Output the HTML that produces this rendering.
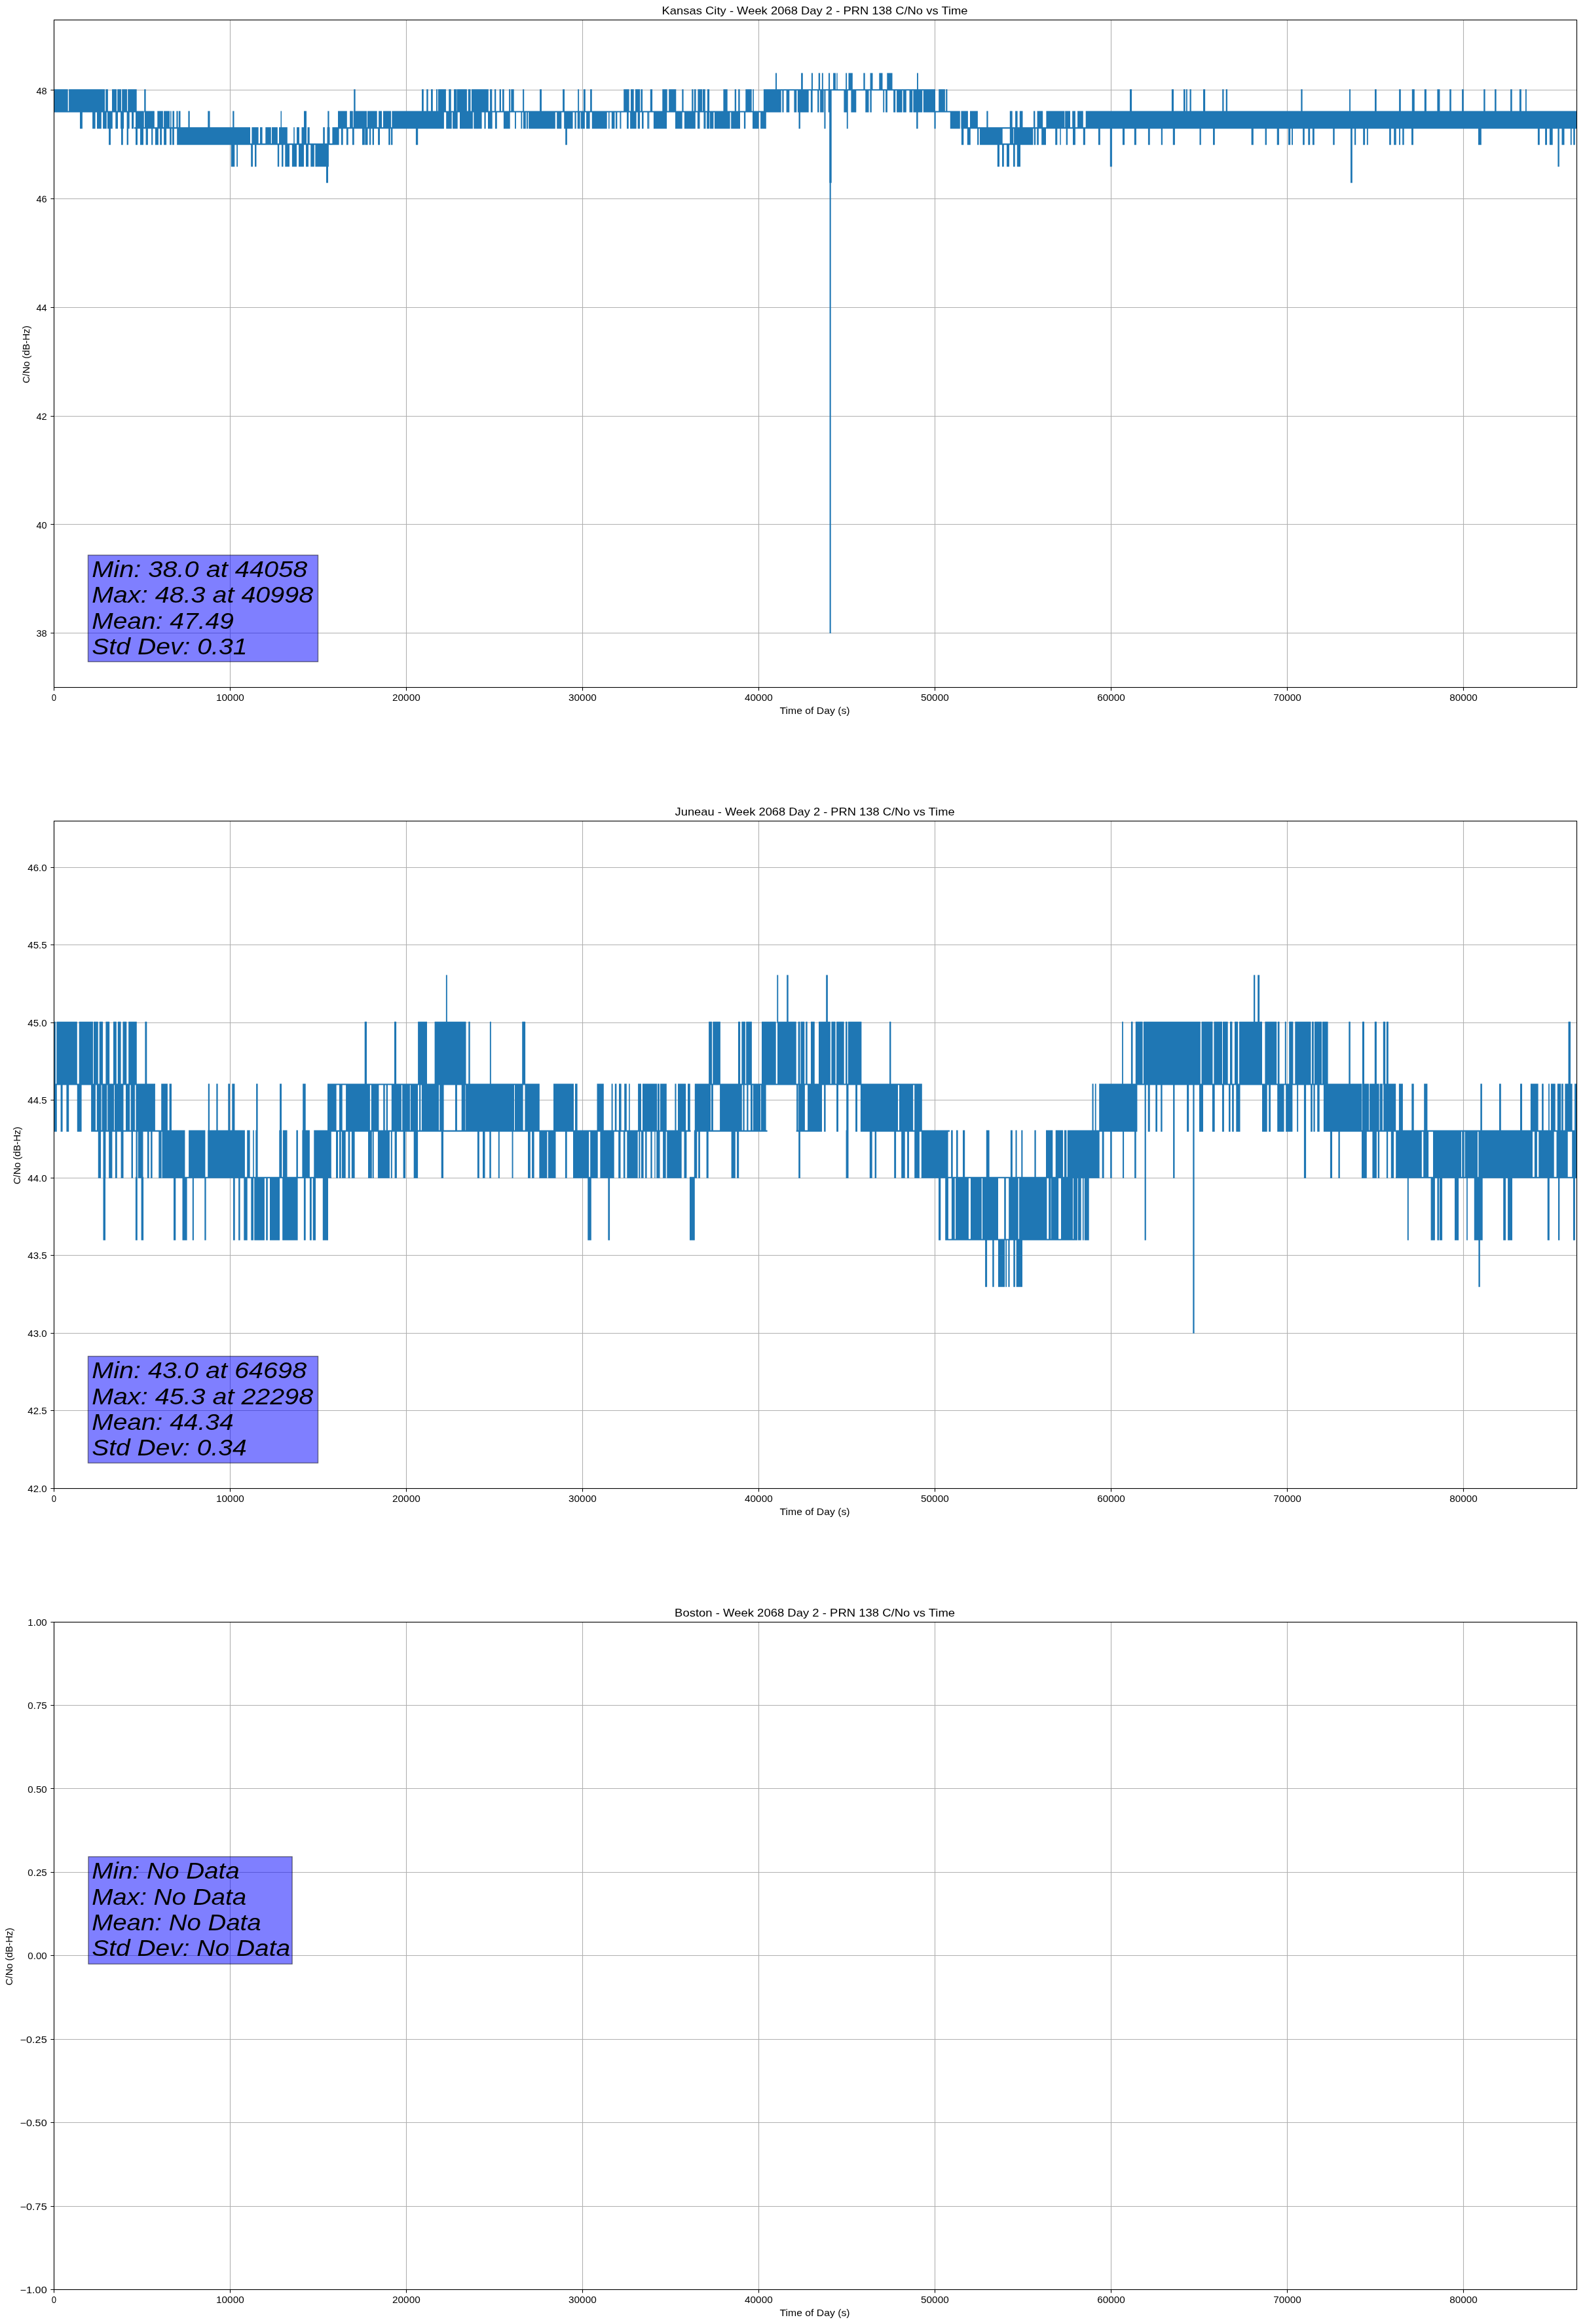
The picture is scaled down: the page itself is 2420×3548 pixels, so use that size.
<!DOCTYPE html><html><head><meta charset="utf-8"><style>html,body{margin:0;padding:0;background:#fff;}svg{display:block;will-change:transform}text{font-family:"Liberation Sans",sans-serif;fill:#000}</style></head><body>
<svg width="2420" height="3548" viewBox="0 0 2420 3548">
<rect x="0" y="0" width="2420" height="3548" fill="#fff"/>
<path d="M82.5 30.5V1049.5M351.5 30.5V1049.5M620.5 30.5V1049.5M889.5 30.5V1049.5M1158.5 30.5V1049.5M1427.5 30.5V1049.5M1696.5 30.5V1049.5M1965.5 30.5V1049.5M2234.5 30.5V1049.5M82.39 966.5H2407.4M82.39 800.5H2407.4M82.39 635.5H2407.4M82.39 469.5H2407.4M82.39 303.5H2407.4M82.39 137.5H2407.4" stroke="#b0b0b0" stroke-width="1.11" fill="none"/>
<path d="M82.0 136.3H103.7V171.5H82.0ZM105.1 136.3H160.0V171.5H105.1ZM161.2 136.3H164.9V171.5H161.2ZM171.0 136.3H178.0V171.5H171.0ZM179.2 136.3H185.0V171.5H179.2ZM186.2 136.3H194.0V171.5H186.2ZM195.2 136.3H208.7V171.5H195.2ZM82.0 169.4H212.0V171.5H82.0ZM122.0 169.4H125.9V196.4H122.0ZM141.1 169.4H145.6V196.4H141.1ZM148.0 169.4H154.8V196.4H148.0ZM157.1 169.4H162.8V196.4H157.1ZM164.0 169.4H171.8V196.4H164.0ZM176.3 169.4H180.0V196.4H176.3ZM184.1 169.4H189.1V196.4H184.1ZM193.6 169.4H197.7V196.4H193.6ZM201.0 169.4H204.2V196.4H201.0ZM207.1 169.4H212.0V196.4H207.1ZM166.1 194.3H169.0V221.2H166.1ZM185.0 194.3H187.8V221.2H185.0ZM193.6 194.3H196.0V221.2H193.6ZM207.1 194.3H210.0V221.2H207.1ZM207.0 169.4H219.8V196.4H207.0ZM221.0 169.4H235.8V196.4H221.0ZM240.3 169.4H248.9V196.4H240.3ZM250.1 169.4H259.1V196.4H250.1ZM260.1 169.4H261.6V196.4H260.1ZM263.4 169.4H266.1V196.4H263.4ZM269.4 169.4H271.0V196.4H269.4ZM273.3 169.4H275.5V196.4H273.3ZM220.2 136.3H222.6V171.5H220.2ZM207.0 194.3H209.9V221.2H207.0ZM214.0 194.3H219.0V221.2H214.0ZM222.6 194.3H225.9V221.2H222.6ZM231.1 194.3H233.3V221.2H231.1ZM237.0 194.3H241.9V221.2H237.0ZM244.2 194.3H247.0V221.2H244.2ZM250.1 194.3H254.1V221.2H250.1ZM259.1 194.3H261.8V221.2H259.1ZM263.1 194.3H265.9V221.2H263.1ZM205.0 194.3H272.0V196.4H205.0ZM270.2 194.3H382.0V221.2H270.2ZM270.0 169.4H271.6V196.4H270.0ZM272.8 169.4H275.5V196.4H272.8ZM287.4 169.4H289.7V196.4H287.4ZM317.3 169.4H320.5V196.4H317.3ZM355.2 169.4H357.5V196.4H355.2ZM352.8 219.1H358.3V254.4H352.8ZM361.2 219.1H363.0V254.4H361.2ZM383.2 219.1H386.0V254.4H383.2ZM389.0 219.1H391.5V254.4H389.0ZM384.4 194.3H394.6V221.2H384.4ZM397.0 194.3H400.6V221.2H397.0ZM405.3 194.3H413.8V221.2H405.3ZM415.0 194.3H423.8V221.2H415.0ZM426.0 194.3H438.8V221.2H426.0ZM382.0 219.1H510.0V221.2H382.0ZM423.8 219.1H426.2V254.4H423.8ZM430.0 219.1H432.5V254.4H430.0ZM435.3 219.1H442.0V254.4H435.3ZM445.9 219.1H453.0V254.4H445.9ZM456.0 219.1H464.0V254.4H456.0ZM467.0 219.1H471.0V254.4H467.0ZM474.3 219.1H479.8V254.4H474.3ZM481.4 219.1H501.9V254.4H481.4ZM498.0 252.3H501.0V279.2H498.0ZM428.5 169.4H430.0V196.4H428.5ZM464.0 169.4H468.0V196.4H464.0ZM500.3 169.4H502.6V196.4H500.3ZM516.0 169.4H519.0V196.4H516.0ZM448.2 194.3H449.8V221.2H448.2ZM453.0 194.3H457.0V221.2H453.0ZM460.5 194.3H468.0V221.2H460.5ZM469.5 194.3H472.7V221.2H469.5ZM493.2 194.3H495.9V221.2H493.2ZM499.5 194.3H503.5V221.2H499.5ZM507.4 194.3H517.6V221.2H507.4ZM517.0 194.3H600.0V196.4H517.0ZM600.0 169.4H760.0V171.5H600.0ZM516.1 169.4H517.8V196.4H516.1ZM518.9 169.4H529.8V196.4H518.9ZM534.1 169.4H538.8V196.4H534.1ZM539.7 169.4H560.1V196.4H539.7ZM561.0 169.4H575.7V196.4H561.0ZM578.1 169.4H583.1V196.4H578.1ZM585.0 169.4H597.0V196.4H585.0ZM598.4 169.4H677.9V196.4H598.4ZM520.8 194.3H523.7V221.2H520.8ZM528.9 194.3H531.7V221.2H528.9ZM537.9 194.3H540.7V221.2H537.9ZM553.0 194.3H556.8V221.2H553.0ZM557.3 194.3H561.5V221.2H557.3ZM563.9 194.3H566.2V221.2H563.9ZM568.6 194.3H571.0V221.2H568.6ZM577.1 194.3H580.0V221.2H577.1ZM593.2 194.3H595.8V221.2H593.2ZM597.0 194.3H599.4V221.2H597.0ZM634.9 194.3H638.2V221.2H634.9ZM540.2 136.3H542.6V171.5H540.2ZM644.0 136.3H646.8V171.5H644.0ZM651.2 136.3H653.7V171.5H651.2ZM658.0 136.3H660.8V171.5H658.0ZM666.0 136.3H667.9V171.5H666.0ZM668.9 136.3H680.9V171.5H668.9ZM685.2 136.3H688.7V171.5H685.2ZM693.0 136.3H697.5V171.5H693.0ZM697.9 136.3H712.9V171.5H697.9ZM714.8 136.3H718.5V171.5H714.8ZM720.0 136.3H745.8V171.5H720.0ZM748.1 136.3H750.5V171.5H748.1ZM755.0 136.3H757.3V171.5H755.0ZM681.2 169.4H689.7V196.4H681.2ZM691.1 169.4H698.7V196.4H691.1ZM702.0 169.4H721.9V196.4H702.0ZM723.3 169.4H735.6V196.4H723.3ZM739.4 169.4H741.7V196.4H739.4ZM745.0 169.4H751.7V196.4H745.0ZM755.9 169.4H758.8V196.4H755.9ZM750.0 169.4H1000.0V171.5H750.0ZM750.0 136.3H751.3V171.5H750.0ZM755.0 136.3H757.1V171.5H755.0ZM762.6 136.3H765.0V171.5H762.6ZM767.0 136.3H769.7V171.5H767.0ZM777.1 136.3H779.2V171.5H777.1ZM780.3 136.3H784.7V171.5H780.3ZM798.1 136.3H800.2V171.5H798.1ZM824.1 136.3H827.0V171.5H824.1ZM859.1 136.3H862.0V171.5H859.1ZM882.2 136.3H884.1V171.5H882.2ZM890.9 136.3H893.8V171.5H890.9ZM901.1 136.3H903.8V171.5H901.1ZM952.2 136.3H960.6V171.5H952.2ZM963.0 136.3H967.7V171.5H963.0ZM970.0 136.3H977.1V171.5H970.0ZM978.4 136.3H981.1V171.5H978.4ZM993.7 136.3H996.1V171.5H993.7ZM750.0 169.4H751.6V196.4H750.0ZM756.0 169.4H758.7V196.4H756.0ZM768.9 169.4H778.7V196.4H768.9ZM786.0 169.4H787.9V196.4H786.0ZM795.4 169.4H797.3V196.4H795.4ZM798.9 169.4H802.8V196.4H798.9ZM803.9 169.4H806.0V196.4H803.9ZM807.1 169.4H847.8V196.4H807.1ZM850.2 169.4H857.3V196.4H850.2ZM861.2 169.4H874.6V196.4H861.2ZM877.4 169.4H879.7V196.4H877.4ZM881.7 169.4H885.6V196.4H881.7ZM886.7 169.4H892.9V196.4H886.7ZM895.1 169.4H900.6V196.4H895.1ZM903.8 169.4H926.7V196.4H903.8ZM929.0 169.4H930.6V196.4H929.0ZM933.8 169.4H938.5V196.4H933.8ZM940.0 169.4H942.4V196.4H940.0ZM946.4 169.4H948.4V196.4H946.4ZM957.0 169.4H959.8V196.4H957.0ZM962.1 169.4H971.6V196.4H962.1ZM973.7 169.4H977.1V196.4H973.7ZM980.0 169.4H982.6V196.4H980.0ZM988.2 169.4H989.7V196.4H988.2ZM998.4 169.4H1000.0V196.4H998.4ZM863.2 194.3H865.9V221.2H863.2ZM990.0 169.4H1165.9V171.5H990.0ZM992.8 136.3H996.0V171.5H992.8ZM1011.3 136.3H1018.7V171.5H1011.3ZM1021.2 136.3H1032.3V171.5H1021.2ZM1041.3 136.3H1043.6V171.5H1041.3ZM1056.2 136.3H1058.6V171.5H1056.2ZM1059.9 136.3H1062.6V171.5H1059.9ZM1065.4 136.3H1072.0V171.5H1065.4ZM1072.8 136.3H1076.8V171.5H1072.8ZM1079.9 136.3H1083.1V171.5H1079.9ZM1104.4 136.3H1110.7V171.5H1104.4ZM1121.7 136.3H1124.1V171.5H1121.7ZM1127.2 136.3H1129.6V171.5H1127.2ZM1138.3 136.3H1147.7V171.5H1138.3ZM1149.3 136.3H1150.9V171.5H1149.3ZM990.0 169.4H991.3V196.4H990.0ZM997.9 169.4H1018.1V196.4H997.9ZM1031.0 169.4H1041.7V196.4H1031.0ZM1044.9 169.4H1061.8V196.4H1044.9ZM1064.9 169.4H1068.5V196.4H1064.9ZM1074.4 169.4H1077.5V196.4H1074.4ZM1079.1 169.4H1083.1V196.4H1079.1ZM1083.8 169.4H1089.4V196.4H1083.8ZM1091.0 169.4H1114.6V196.4H1091.0ZM1116.2 169.4H1130.0V196.4H1116.2ZM1135.9 169.4H1138.3V196.4H1135.9ZM1149.0 169.4H1158.5V196.4H1149.0ZM1161.1 169.4H1169.8V196.4H1161.1ZM1165.9 136.3H1240.0V138.3H1165.9ZM1165.9 136.3H1192.7V171.5H1165.9ZM1194.3 136.3H1196.6V171.5H1194.3ZM1200.6 136.3H1205.3V171.5H1200.6ZM1212.4 136.3H1216.3V171.5H1212.4ZM1217.9 136.3H1234.5V171.5H1217.9ZM1238.4 136.3H1240.0V171.5H1238.4ZM1184.0 111.4H1186.0V138.3H1184.0ZM1223.1 111.4H1225.8V138.3H1223.1ZM1238.9 111.4H1241.0V138.3H1238.9ZM1219.5 169.4H1221.9V196.4H1219.5ZM1230.0 136.3H1428.0V138.3H1230.0ZM1239.1 111.4H1241.0V138.3H1239.1ZM1249.7 111.4H1252.1V138.3H1249.7ZM1254.9 111.4H1256.8V138.3H1254.9ZM1265.0 111.4H1267.1V138.3H1265.0ZM1272.1 111.4H1275.9V138.3H1272.1ZM1277.3 111.4H1278.7V138.3H1277.3ZM1291.2 111.4H1293.1V138.3H1291.2ZM1295.5 111.4H1301.8V138.3H1295.5ZM1318.3 111.4H1320.7V138.3H1318.3ZM1328.6 111.4H1332.5V138.3H1328.6ZM1342.3 111.4H1347.5V138.3H1342.3ZM1354.3 111.4H1362.5V138.3H1354.3ZM1400.0 111.4H1401.9V138.3H1400.0ZM1230.0 136.3H1234.7V171.5H1230.0ZM1237.9 136.3H1240.7V171.5H1237.9ZM1248.1 136.3H1250.5V171.5H1248.1ZM1252.1 136.3H1257.6V171.5H1252.1ZM1264.7 136.3H1269.4V171.5H1264.7ZM1288.4 136.3H1294.7V171.5H1288.4ZM1299.4 136.3H1307.3V171.5H1299.4ZM1321.3 136.3H1326.5V171.5H1321.3ZM1328.4 136.3H1330.8V171.5H1328.4ZM1348.3 136.3H1350.2V171.5H1348.3ZM1352.1 136.3H1354.9V171.5H1352.1ZM1364.1 136.3H1367.2V171.5H1364.1ZM1369.1 136.3H1377.6V171.5H1369.1ZM1379.0 136.3H1383.8V171.5H1379.0ZM1388.5 136.3H1393.2V171.5H1388.5ZM1394.4 136.3H1408.2V171.5H1394.4ZM1409.8 136.3H1428.0V171.5H1409.8ZM1433.2 136.3H1442.9V171.5H1433.2ZM1444.2 136.3H1446.4V171.5H1444.2ZM1258.4 136.3H1260.5V196.4H1258.4ZM1292.8 169.4H1294.7V196.4H1292.8ZM1399.1 169.4H1401.6V196.4H1399.1ZM1426.4 169.4H1428.7V196.4H1426.4ZM1266.2 136.3H1269.7V279.2H1266.2ZM1266.6 277.2H1268.7V967.1H1266.6ZM1428.0 169.4H1451.0V171.5H1428.0ZM1450.8 169.4H1465.8V196.4H1450.8ZM1467.4 169.4H1477.6V196.4H1467.4ZM1467.9 194.3H1471.0V221.2H1467.9ZM1476.8 194.3H1478.9V221.2H1476.8ZM1470.0 194.3H1720.0V196.4H1470.0ZM1470.0 169.4H1477.9V196.4H1470.0ZM1481.0 169.4H1492.9V196.4H1481.0ZM1506.3 169.4H1508.6V196.4H1506.3ZM1541.8 169.4H1545.7V196.4H1541.8ZM1550.1 169.4H1553.6V196.4H1550.1ZM1556.8 169.4H1561.5V196.4H1556.8ZM1578.0 169.4H1580.4V196.4H1578.0ZM1583.6 169.4H1592.2V196.4H1583.6ZM1597.4 169.4H1625.4V196.4H1597.4ZM1626.2 169.4H1634.0V196.4H1626.2ZM1637.2 169.4H1641.9V196.4H1637.2ZM1645.1 169.4H1653.8V196.4H1645.1ZM1657.7 169.4H1720.0V196.4H1657.7ZM1470.0 194.3H1471.3V221.2H1470.0ZM1477.1 194.3H1481.8V221.2H1477.1ZM1492.1 194.3H1494.4V221.2H1492.1ZM1496.0 194.3H1530.7V221.2H1496.0ZM1541.8 194.3H1547.3V221.2H1541.8ZM1548.1 194.3H1577.3V221.2H1548.1ZM1578.8 194.3H1581.2V221.2H1578.8ZM1583.2 194.3H1585.9V221.2H1583.2ZM1590.2 194.3H1597.0V221.2H1590.2ZM1611.2 194.3H1614.3V221.2H1611.2ZM1618.3 194.3H1619.8V221.2H1618.3ZM1627.7 194.3H1630.1V221.2H1627.7ZM1638.0 194.3H1641.9V221.2H1638.0ZM1653.8 194.3H1656.9V221.2H1653.8ZM1676.9 194.3H1679.8V221.2H1676.9ZM1714.2 194.3H1716.8V221.2H1714.2ZM1530.7 219.1H1548.1V221.2H1530.7ZM1522.8 219.1H1526.0V254.4H1522.8ZM1530.0 219.1H1532.8V254.4H1530.0ZM1537.0 219.1H1541.0V254.4H1537.0ZM1547.0 219.1H1549.7V254.4H1547.0ZM1552.8 219.1H1558.0V254.4H1552.8ZM1694.8 194.3H1697.9V254.4H1694.8ZM1710.0 169.4H1960.0V196.4H1710.0ZM1725.0 136.3H1728.1V171.5H1725.0ZM1788.9 136.3H1792.0V171.5H1788.9ZM1807.0 136.3H1809.7V171.5H1807.0ZM1811.0 136.3H1812.8V171.5H1811.0ZM1816.5 136.3H1818.8V171.5H1816.5ZM1837.0 136.3H1840.1V171.5H1837.0ZM1866.2 136.3H1868.5V171.5H1866.2ZM1871.7 136.3H1874.0V171.5H1871.7ZM1713.9 194.3H1717.1V221.2H1713.9ZM1731.8 194.3H1734.9V221.2H1731.8ZM1752.9 194.3H1755.7V221.2H1752.9ZM1772.8 194.3H1775.0V221.2H1772.8ZM1790.8 194.3H1793.9V221.2H1790.8ZM1831.5 194.3H1833.8V221.2H1831.5ZM1852.0 194.3H1854.8V221.2H1852.0ZM1910.6 194.3H1913.8V221.2H1910.6ZM1931.6 194.3H1934.0V221.2H1931.6ZM1949.7 194.3H1952.9V221.2H1949.7ZM1950.0 169.4H2200.0V196.4H1950.0ZM1986.3 136.3H1988.6V171.5H1986.3ZM2060.1 136.3H2062.0V171.5H2060.1ZM2099.0 136.3H2101.7V171.5H2099.0ZM2136.1 136.3H2138.8V171.5H2136.1ZM2155.8 136.3H2159.8V171.5H2155.8ZM2174.8 136.3H2177.9V171.5H2174.8ZM2195.3 136.3H2198.4V171.5H2195.3ZM1950.0 194.3H1952.8V221.2H1950.0ZM1967.0 194.3H1970.2V221.2H1967.0ZM1972.1 194.3H1974.0V221.2H1972.1ZM1989.1 194.3H1991.8V221.2H1989.1ZM1997.3 194.3H2000.2V221.2H1997.3ZM2003.9 194.3H2006.8V221.2H2003.9ZM2035.2 194.3H2037.7V221.2H2035.2ZM2068.0 194.3H2070.2V221.2H2068.0ZM2081.2 194.3H2084.1V221.2H2081.2ZM2086.9 194.3H2088.8V221.2H2086.9ZM2121.1 194.3H2123.8V221.2H2121.1ZM2128.2 194.3H2131.7V221.2H2128.2ZM2136.1 194.3H2138.0V221.2H2136.1ZM2141.2 194.3H2143.7V221.2H2141.2ZM2155.0 194.3H2157.9V221.2H2155.0ZM2062.0 194.3H2064.8V279.2H2062.0ZM2190.0 169.4H2407.0V196.4H2190.0ZM2194.4 136.3H2198.4V171.5H2194.4ZM2213.2 136.3H2215.8V171.5H2213.2ZM2232.1 136.3H2234.7V171.5H2232.1ZM2265.2 136.3H2267.6V171.5H2265.2ZM2282.1 136.3H2284.6V171.5H2282.1ZM2306.1 136.3H2308.7V171.5H2306.1ZM2319.9 136.3H2322.8V171.5H2319.9ZM2329.0 136.3H2330.8V171.5H2329.0ZM2257.0 194.3H2261.8V221.2H2257.0ZM2347.9 194.3H2350.8V221.2H2347.9ZM2359.1 194.3H2362.0V221.2H2359.1ZM2365.9 194.3H2370.7V221.2H2365.9ZM2384.5 194.3H2388.5V221.2H2384.5ZM2397.8 194.3H2399.7V221.2H2397.8ZM2402.2 194.3H2404.8V221.2H2402.2ZM2378.4 194.3H2380.8V254.4H2378.4Z" fill="#1f77b4"/>
<rect x="134.5" y="847.5" width="351.0" height="162.7" fill="rgba(0,0,255,0.5)" stroke="rgba(0,0,0,0.5)" stroke-width="1.39"/>
<text transform="translate(140.2,881.3) scale(1.126,1)" x="0" y="0" font-style="italic" font-size="35.3">Min: 38.0 at 44058</text>
<text transform="translate(140.2,920.4) scale(1.119,1)" x="0" y="0" font-style="italic" font-size="35.3">Max: 48.3 at 40998</text>
<text transform="translate(140.2,959.5) scale(1.104,1)" x="0" y="0" font-style="italic" font-size="35.3">Mean: 47.49</text>
<text transform="translate(140.2,998.6) scale(1.11,1)" x="0" y="0" font-style="italic" font-size="35.3">Std Dev: 0.31</text>
<rect x="82.5" y="30.5" width="2325.0" height="1019.0" fill="none" stroke="#000" stroke-width="1.11"/>
<path d="M82.5 1049.5v5.1M351.5 1049.5v5.1M620.5 1049.5v5.1M889.5 1049.5v5.1M1158.5 1049.5v5.1M1427.5 1049.5v5.1M1696.5 1049.5v5.1M1965.5 1049.5v5.1M2234.5 1049.5v5.1M82.5 966.5h-5.1M82.5 800.5h-5.1M82.5 635.5h-5.1M82.5 469.5h-5.1M82.5 303.5h-5.1M82.5 137.5h-5.1" stroke="#000" stroke-width="1.11" fill="none"/>
<text x="82.4" y="1070.0" font-size="14.1" text-anchor="middle" textLength="7.3" lengthAdjust="spacingAndGlyphs">0</text>
<text x="351.4" y="1070.0" font-size="14.1" text-anchor="middle" textLength="42.7" lengthAdjust="spacingAndGlyphs">10000</text>
<text x="620.4" y="1070.0" font-size="14.1" text-anchor="middle" textLength="42.7" lengthAdjust="spacingAndGlyphs">20000</text>
<text x="889.4" y="1070.0" font-size="14.1" text-anchor="middle" textLength="42.7" lengthAdjust="spacingAndGlyphs">30000</text>
<text x="1158.4" y="1070.0" font-size="14.1" text-anchor="middle" textLength="42.7" lengthAdjust="spacingAndGlyphs">40000</text>
<text x="1427.4" y="1070.0" font-size="14.1" text-anchor="middle" textLength="42.7" lengthAdjust="spacingAndGlyphs">50000</text>
<text x="1696.5" y="1070.0" font-size="14.1" text-anchor="middle" textLength="42.7" lengthAdjust="spacingAndGlyphs">60000</text>
<text x="1965.5" y="1070.0" font-size="14.1" text-anchor="middle" textLength="42.7" lengthAdjust="spacingAndGlyphs">70000</text>
<text x="2234.5" y="1070.0" font-size="14.1" text-anchor="middle" textLength="42.7" lengthAdjust="spacingAndGlyphs">80000</text>
<text x="71.7" y="972.3" font-size="14.1" text-anchor="end" textLength="16.2" lengthAdjust="spacingAndGlyphs">38</text>
<text x="71.7" y="807.3" font-size="14.1" text-anchor="end" textLength="16.2" lengthAdjust="spacingAndGlyphs">40</text>
<text x="71.7" y="641.3" font-size="14.1" text-anchor="end" textLength="16.2" lengthAdjust="spacingAndGlyphs">42</text>
<text x="71.7" y="475.3" font-size="14.1" text-anchor="end" textLength="16.2" lengthAdjust="spacingAndGlyphs">44</text>
<text x="71.7" y="309.3" font-size="14.1" text-anchor="end" textLength="16.2" lengthAdjust="spacingAndGlyphs">46</text>
<text x="71.7" y="144.3" font-size="14.1" text-anchor="end" textLength="16.2" lengthAdjust="spacingAndGlyphs">48</text>
<text x="1244" y="1090.2" font-size="14.1" text-anchor="middle" textLength="107" lengthAdjust="spacingAndGlyphs">Time of Day (s)</text>
<text transform="translate(45.2,541.0) rotate(-90)" x="0" y="0" font-size="14.1" text-anchor="middle" textLength="88" lengthAdjust="spacingAndGlyphs">C/No (dB-Hz)</text>
<text x="1244.1" y="22.1" font-size="17" text-anchor="middle" textLength="467" lengthAdjust="spacingAndGlyphs">Kansas City - Week 2068 Day 2 - PRN 138 C/No vs Time</text>
<path d="M82.5 1253.5V2272.5M351.5 1253.5V2272.5M620.5 1253.5V2272.5M889.5 1253.5V2272.5M1158.5 1253.5V2272.5M1427.5 1253.5V2272.5M1696.5 1253.5V2272.5M1965.5 1253.5V2272.5M2234.5 1253.5V2272.5M82.39 2272.5H2407.4M82.39 2153.5H2407.4M82.39 2035.5H2407.4M82.39 1916.5H2407.4M82.39 1798.5H2407.4M82.39 1679.5H2407.4M82.39 1561.5H2407.4M82.39 1442.5H2407.4M82.39 1324.5H2407.4" stroke="#b0b0b0" stroke-width="1.11" fill="none"/>
<path d="M83.0 1559.7H84.9V1656.6H83.0ZM86.3 1559.7H117.8V1656.6H86.3ZM120.7 1559.7H142.0V1656.6H120.7ZM143.0 1559.7H149.8V1656.6H143.0ZM151.7 1559.7H157.1V1656.6H151.7ZM161.4 1559.7H167.2V1656.6H161.4ZM173.0 1559.7H177.8V1656.6H173.0ZM179.8 1559.7H184.6V1656.6H179.8ZM187.5 1559.7H193.3V1656.6H187.5ZM196.2 1559.7H208.8V1656.6H196.2ZM221.4 1559.7H224.3V1656.6H221.4ZM82.0 1654.5H237.0V1656.6H82.0ZM82.0 1654.5H86.8V1727.7H82.0ZM92.6 1654.5H95.6V1727.7H92.6ZM101.4 1654.5H105.2V1727.7H101.4ZM117.8 1654.5H124.6V1727.7H117.8ZM139.1 1654.5H145.9V1727.7H139.1ZM147.8 1654.5H154.6V1727.7H147.8ZM155.6 1654.5H163.3V1727.7H155.6ZM164.3 1654.5H174.0V1727.7H164.3ZM174.9 1654.5H188.5V1727.7H174.9ZM192.0 1654.5H198.2V1727.7H192.0ZM199.7 1654.5H205.9V1727.7H199.7ZM207.5 1654.5H236.9V1727.7H207.5ZM246.2 1654.5H255.9V1727.7H246.2ZM258.6 1654.5H262.0V1727.7H258.6ZM140.0 1725.6H282.0V1727.7H140.0ZM149.8 1725.6H154.0V1798.8H149.8ZM157.5 1725.6H161.4V1798.8H157.5ZM166.2 1725.6H171.4V1798.8H166.2ZM175.9 1725.6H178.8V1798.8H175.9ZM184.6 1725.6H188.5V1798.8H184.6ZM200.5 1725.6H203.0V1798.8H200.5ZM207.5 1725.6H209.8V1798.8H207.5ZM210.8 1725.6H218.5V1798.8H210.8ZM224.9 1725.6H227.6V1798.8H224.9ZM230.1 1725.6H232.6V1798.8H230.1ZM242.3 1725.6H246.6V1798.8H242.3ZM247.5 1725.6H282.0V1798.8H247.5ZM157.5 1796.7H161.0V1893.6H157.5ZM206.9 1796.7H209.8V1893.6H206.9ZM215.6 1796.7H219.1V1893.6H215.6ZM265.0 1796.7H268.3V1893.6H265.0ZM278.5 1796.7H281.4V1893.6H278.5ZM275.0 1725.6H282.4V1798.8H275.0ZM288.1 1725.6H313.4V1798.8H288.1ZM317.2 1725.6H373.9V1798.8H317.2ZM377.2 1725.6H381.6V1798.8H377.2ZM386.2 1725.6H387.8V1798.8H386.2ZM390.3 1725.6H393.6V1798.8H390.3ZM426.3 1725.6H430.4V1798.8H426.3ZM432.0 1725.6H438.5V1798.8H432.0ZM452.4 1725.6H454.9V1798.8H452.4ZM461.4 1725.6H472.9V1798.8H461.4ZM317.8 1654.5H320.0V1727.7H317.8ZM330.3 1654.5H332.6V1727.7H330.3ZM348.3 1654.5H351.0V1727.7H348.3ZM354.3 1654.5H358.4V1727.7H354.3ZM391.1 1654.5H393.6V1727.7H391.1ZM427.1 1654.5H430.0V1727.7H427.1ZM462.2 1654.5H466.7V1727.7H462.2ZM275.0 1796.7H475.0V1798.8H275.0ZM279.1 1796.7H285.6V1893.6H279.1ZM293.8 1796.7H295.9V1893.6H293.8ZM312.3 1796.7H314.6V1893.6H312.3ZM356.0 1796.7H358.7V1893.6H356.0ZM364.1 1796.7H366.6V1893.6H364.1ZM372.3 1796.7H377.7V1893.6H372.3ZM383.3 1796.7H387.0V1893.6H383.3ZM388.2 1796.7H403.9V1893.6H388.2ZM406.2 1796.7H408.8V1893.6H406.2ZM412.0 1796.7H427.1V1893.6H412.0ZM431.2 1796.7H454.6V1893.6H431.2ZM463.9 1796.7H466.7V1893.6H463.9ZM472.9 1796.7H475.0V1893.6H472.9ZM470.0 1725.6H472.9V1798.8H470.0ZM479.3 1725.6H505.8V1798.8H479.3ZM513.0 1725.6H516.1V1798.8H513.0ZM518.0 1725.6H520.7V1798.8H518.0ZM521.9 1725.6H527.7V1798.8H521.9ZM531.6 1725.6H534.3V1798.8H531.6ZM536.8 1725.6H541.6V1798.8H536.8ZM562.0 1725.6H567.8V1798.8H562.0ZM568.7 1725.6H570.7V1798.8H568.7ZM576.9 1725.6H594.9V1798.8H576.9ZM596.8 1725.6H598.8V1798.8H596.8ZM602.6 1725.6H605.9V1798.8H602.6ZM615.6 1725.6H619.1V1798.8H615.6ZM631.7 1725.6H638.1V1798.8H631.7ZM470.0 1796.7H506.0V1798.8H470.0ZM499.0 1725.6H670.0V1727.7H499.0ZM500.0 1654.5H513.6V1727.7H500.0ZM518.0 1654.5H522.7V1727.7H518.0ZM528.1 1654.5H564.9V1727.7H528.1ZM566.8 1654.5H578.4V1727.7H566.8ZM585.2 1654.5H587.7V1727.7H585.2ZM589.7 1654.5H592.0V1727.7H589.7ZM597.8 1654.5H612.9V1727.7H597.8ZM614.2 1654.5H625.9V1727.7H614.2ZM626.8 1654.5H638.1V1727.7H626.8ZM640.0 1654.5H642.3V1727.7H640.0ZM643.9 1654.5H670.0V1727.7H643.9ZM500.0 1654.5H670.0V1656.6H500.0ZM556.7 1559.7H560.0V1656.6H556.7ZM602.0 1559.7H605.1V1656.6H602.0ZM638.1 1559.7H652.0V1656.6H638.1ZM663.6 1559.7H670.0V1656.6H663.6ZM472.9 1796.7H475.8V1893.6H472.9ZM477.7 1796.7H482.0V1893.6H477.7ZM492.8 1796.7H501.0V1893.6H492.8ZM665.0 1559.7H711.5V1656.6H665.0ZM680.9 1488.6H682.8V1561.8H680.9ZM715.3 1559.7H717.7V1656.6H715.3ZM747.9 1559.7H749.8V1656.6H747.9ZM797.2 1559.7H802.1V1656.6H797.2ZM665.0 1654.5H823.8V1656.6H665.0ZM845.0 1654.5H865.0V1656.6H845.0ZM665.0 1654.5H669.8V1727.7H665.0ZM671.2 1654.5H677.6V1727.7H671.2ZM695.0 1654.5H697.9V1727.7H695.0ZM704.7 1654.5H710.5V1727.7H704.7ZM711.1 1654.5H785.0V1727.7H711.1ZM786.0 1654.5H798.6V1727.7H786.0ZM801.5 1654.5H823.8V1727.7H801.5ZM845.0 1654.5H865.0V1727.7H845.0ZM665.0 1725.6H865.0V1727.7H665.0ZM673.7 1725.6H677.0V1798.8H673.7ZM728.9 1725.6H731.8V1798.8H728.9ZM737.0 1725.6H740.5V1798.8H737.0ZM747.3 1725.6H749.8V1798.8H747.3ZM760.8 1725.6H762.8V1798.8H760.8ZM781.6 1725.6H783.5V1798.8H781.6ZM806.0 1725.6H809.8V1798.8H806.0ZM812.1 1725.6H815.6V1798.8H812.1ZM823.4 1725.6H835.4V1798.8H823.4ZM836.9 1725.6H848.5V1798.8H836.9ZM862.9 1725.6H865.0V1798.8H862.9ZM860.0 1654.5H876.0V1727.7H860.0ZM878.0 1654.5H881.6V1727.7H878.0ZM911.5 1654.5H921.8V1727.7H911.5ZM933.6 1654.5H935.6V1727.7H933.6ZM938.8 1654.5H941.4V1727.7H938.8ZM945.0 1654.5H948.6V1727.7H945.0ZM953.2 1654.5H956.8V1727.7H953.2ZM960.1 1654.5H961.7V1727.7H960.1ZM974.1 1654.5H979.0V1727.7H974.1ZM981.0 1654.5H1003.1V1727.7H981.0ZM1003.9 1654.5H1006.9V1727.7H1003.9ZM1008.0 1654.5H1017.8V1727.7H1008.0ZM1030.4 1654.5H1032.5V1727.7H1030.4ZM1035.0 1654.5H1047.2V1727.7H1035.0ZM1050.0 1654.5H1053.8V1727.7H1050.0ZM860.0 1725.6H1054.6V1727.7H860.0ZM863.0 1725.6H865.7V1798.8H863.0ZM875.0 1725.6H899.2V1798.8H875.0ZM901.2 1725.6H912.7V1798.8H901.2ZM916.4 1725.6H937.7V1798.8H916.4ZM944.2 1725.6H947.5V1798.8H944.2ZM951.9 1725.6H954.5V1798.8H951.9ZM957.3 1725.6H973.7V1798.8H957.3ZM975.3 1725.6H977.4V1798.8H975.3ZM979.0 1725.6H982.6V1798.8H979.0ZM985.1 1725.6H987.6V1798.8H985.1ZM993.3 1725.6H995.7V1798.8H993.3ZM999.3 1725.6H1000.6V1798.8H999.3ZM1002.3 1725.6H1007.5V1798.8H1002.3ZM1012.1 1725.6H1016.7V1798.8H1012.1ZM1018.3 1725.6H1040.7V1798.8H1018.3ZM1044.5 1725.6H1048.4V1798.8H1044.5ZM897.3 1796.7H902.8V1893.6H897.3ZM928.4 1796.7H931.1V1893.6H928.4ZM1053.0 1796.7H1060.0V1893.6H1053.0ZM1055.0 1796.7H1060.8V1893.6H1055.0ZM1059.8 1725.6H1064.3V1798.8H1059.8ZM1066.2 1725.6H1068.9V1798.8H1066.2ZM1078.6 1725.6H1081.7V1798.8H1078.6ZM1116.6 1725.6H1122.8V1798.8H1116.6ZM1125.1 1725.6H1128.2V1798.8H1125.1ZM1219.2 1725.6H1221.9V1798.8H1219.2ZM1060.0 1725.6H1171.6V1727.7H1060.0ZM1215.7 1725.6H1255.0V1727.7H1215.7ZM1060.8 1654.5H1085.0V1727.7H1060.8ZM1086.0 1654.5H1088.9V1727.7H1086.0ZM1099.1 1654.5H1132.8V1727.7H1099.1ZM1134.4 1654.5H1136.7V1727.7H1134.4ZM1140.2 1654.5H1142.5V1727.7H1140.2ZM1146.0 1654.5H1148.9V1727.7H1146.0ZM1149.9 1654.5H1161.1V1727.7H1149.9ZM1161.9 1654.5H1169.6V1727.7H1161.9ZM1216.1 1654.5H1218.6V1727.7H1216.1ZM1219.2 1654.5H1228.9V1727.7H1219.2ZM1233.1 1654.5H1255.0V1727.7H1233.1ZM1060.8 1654.5H1255.0V1656.6H1060.8ZM1082.1 1559.7H1087.0V1656.6H1082.1ZM1088.3 1559.7H1099.9V1656.6H1088.3ZM1127.0 1559.7H1130.1V1656.6H1127.0ZM1132.4 1559.7H1137.9V1656.6H1132.4ZM1139.2 1559.7H1147.9V1656.6H1139.2ZM1163.0 1559.7H1184.7V1656.6H1163.0ZM1187.0 1559.7H1215.7V1656.6H1187.0ZM1218.6 1559.7H1221.5V1656.6H1218.6ZM1222.5 1559.7H1228.3V1656.6H1222.5ZM1230.2 1559.7H1232.7V1656.6H1230.2ZM1238.0 1559.7H1243.8V1656.6H1238.0ZM1251.0 1559.7H1255.0V1656.6H1251.0ZM1186.3 1488.6H1188.2V1561.8H1186.3ZM1201.2 1488.6H1203.7V1561.8H1201.2ZM1250.0 1559.7H1267.8V1656.6H1250.0ZM1269.4 1559.7H1275.6V1656.6H1269.4ZM1277.1 1559.7H1288.7V1656.6H1277.1ZM1291.0 1559.7H1293.6V1656.6H1291.0ZM1294.9 1559.7H1315.4V1656.6H1294.9ZM1261.2 1488.6H1263.9V1561.8H1261.2ZM1358.0 1559.7H1360.4V1656.6H1358.0ZM1250.0 1654.5H1407.8V1656.6H1250.0ZM1250.0 1654.5H1253.5V1727.7H1250.0ZM1258.1 1654.5H1260.6V1727.7H1258.1ZM1277.1 1654.5H1280.0V1727.7H1277.1ZM1292.2 1654.5H1295.5V1727.7H1292.2ZM1306.1 1654.5H1309.0V1727.7H1306.1ZM1313.9 1654.5H1371.0V1727.7H1313.9ZM1373.0 1654.5H1394.2V1727.7H1373.0ZM1396.2 1654.5H1407.8V1727.7H1396.2ZM1313.9 1725.6H1450.0V1727.7H1313.9ZM1291.6 1725.6H1295.5V1798.8H1291.6ZM1327.8 1725.6H1331.7V1798.8H1327.8ZM1335.6 1725.6H1338.1V1798.8H1335.6ZM1365.2 1725.6H1368.1V1798.8H1365.2ZM1376.2 1725.6H1381.7V1798.8H1376.2ZM1385.1 1725.6H1387.9V1798.8H1385.1ZM1396.2 1725.6H1403.9V1798.8H1396.2ZM1406.8 1725.6H1447.5V1798.8H1406.8ZM1406.8 1796.7H1450.0V1798.8H1406.8ZM1433.0 1796.7H1436.3V1893.6H1433.0ZM1443.2 1796.7H1447.9V1893.6H1443.2ZM1445.0 1725.6H1447.6V1798.8H1445.0ZM1452.1 1725.6H1454.7V1798.8H1452.1ZM1460.0 1725.6H1462.6V1798.8H1460.0ZM1470.0 1725.6H1473.2V1798.8H1470.0ZM1505.8 1725.6H1510.6V1798.8H1505.8ZM1542.9 1725.6H1545.9V1798.8H1542.9ZM1550.5 1725.6H1552.6V1798.8H1550.5ZM1559.3 1725.6H1561.4V1798.8H1559.3ZM1579.4 1725.6H1581.7V1798.8H1579.4ZM1597.0 1725.6H1607.3V1798.8H1597.0ZM1611.7 1725.6H1623.1V1798.8H1611.7ZM1624.9 1725.6H1628.4V1798.8H1624.9ZM1629.8 1725.6H1645.0V1798.8H1629.8ZM1445.0 1796.7H1645.0V1798.8H1445.0ZM1445.0 1891.5H1645.0V1893.6H1445.0ZM1445.0 1796.7H1447.6V1893.6H1445.0ZM1452.9 1796.7H1457.7V1893.6H1452.9ZM1459.1 1796.7H1478.9V1893.6H1459.1ZM1482.0 1796.7H1498.8V1893.6H1482.0ZM1500.0 1796.7H1524.0V1893.6H1500.0ZM1533.2 1796.7H1535.8V1893.6H1533.2ZM1540.2 1796.7H1554.7V1893.6H1540.2ZM1556.1 1796.7H1598.4V1893.6H1556.1ZM1601.1 1796.7H1604.6V1893.6H1601.1ZM1605.1 1796.7H1616.1V1893.6H1605.1ZM1620.0 1796.7H1638.1V1893.6H1620.0ZM1639.0 1796.7H1645.0V1893.6H1639.0ZM1504.1 1891.5H1507.1V1964.7H1504.1ZM1515.2 1891.5H1517.7V1964.7H1515.2ZM1524.0 1891.5H1534.1V1964.7H1524.0ZM1535.3 1891.5H1537.1V1964.7H1535.3ZM1539.4 1891.5H1541.6V1964.7H1539.4ZM1547.3 1891.5H1549.9V1964.7H1547.3ZM1551.7 1891.5H1561.0V1964.7H1551.7ZM1640.0 1725.6H1671.8V1798.8H1640.0ZM1643.1 1796.7H1645.2V1893.6H1643.1ZM1646.0 1796.7H1650.7V1893.6H1646.0ZM1652.9 1796.7H1654.6V1893.6H1652.9ZM1655.8 1796.7H1662.7V1893.6H1655.8ZM1671.8 1725.6H1678.7V1798.8H1671.8ZM1682.7 1725.6H1685.6V1798.8H1682.7ZM1695.1 1725.6H1697.7V1798.8H1695.1ZM1714.0 1725.6H1716.1V1798.8H1714.0ZM1732.1 1725.6H1734.7V1798.8H1732.1ZM1791.1 1725.6H1793.5V1798.8H1791.1ZM1667.5 1725.6H1736.4V1727.7H1667.5ZM1667.5 1654.5H1669.6V1727.7H1667.5ZM1671.8 1654.5H1673.6V1727.7H1671.8ZM1678.2 1654.5H1736.4V1727.7H1678.2ZM1733.0 1654.5H1840.0V1656.6H1733.0ZM1713.1 1559.7H1714.9V1656.6H1713.1ZM1726.9 1559.7H1729.5V1656.6H1726.9ZM1733.8 1559.7H1744.6V1656.6H1733.8ZM1745.9 1559.7H1832.8V1656.6H1745.9ZM1834.5 1559.7H1836.2V1656.6H1834.5ZM1837.6 1559.7H1840.0V1656.6H1837.6ZM1752.7 1654.5H1755.7V1727.7H1752.7ZM1764.3 1654.5H1767.0V1727.7H1764.3ZM1772.2 1654.5H1774.6V1727.7H1772.2ZM1791.1 1654.5H1793.5V1727.7H1791.1ZM1812.1 1654.5H1815.2V1727.7H1812.1ZM1831.0 1654.5H1836.5V1727.7H1831.0ZM1747.6 1654.5H1749.8V1893.6H1747.6ZM1821.3 1654.5H1823.6V2035.8H1821.3ZM1835.0 1559.7H1851.5V1656.6H1835.0ZM1853.4 1559.7H1866.0V1656.6H1853.4ZM1867.0 1559.7H1874.7V1656.6H1867.0ZM1878.0 1559.7H1881.5V1656.6H1878.0ZM1885.0 1559.7H1890.2V1656.6H1885.0ZM1892.1 1559.7H1927.0V1656.6H1892.1ZM1931.4 1559.7H1949.2V1656.6H1931.4ZM1950.8 1559.7H1953.5V1656.6H1950.8ZM1961.8 1559.7H1963.8V1656.6H1961.8ZM1968.2 1559.7H1974.4V1656.6H1968.2ZM1977.3 1559.7H2001.5V1656.6H1977.3ZM2003.0 1559.7H2005.8V1656.6H2003.0ZM2006.9 1559.7H2018.0V1656.6H2006.9ZM2018.9 1559.7H2027.6V1656.6H2018.9ZM1914.0 1488.6H1916.3V1561.8H1914.0ZM1920.2 1488.6H1923.1V1561.8H1920.2ZM1835.0 1654.5H2035.0V1656.6H1835.0ZM1835.0 1654.5H1837.0V1727.7H1835.0ZM1850.9 1654.5H1854.7V1727.7H1850.9ZM1866.0 1654.5H1868.9V1727.7H1866.0ZM1876.0 1654.5H1878.6V1727.7H1876.0ZM1881.1 1654.5H1883.8V1727.7H1881.1ZM1887.3 1654.5H1893.5V1727.7H1887.3ZM1927.0 1654.5H1934.7V1727.7H1927.0ZM1937.2 1654.5H1940.0V1727.7H1937.2ZM1950.2 1654.5H1960.5V1727.7H1950.2ZM1963.2 1654.5H1973.4V1727.7H1963.2ZM1980.2 1654.5H1982.1V1727.7H1980.2ZM2001.1 1654.5H2003.8V1727.7H2001.1ZM2005.4 1654.5H2007.7V1727.7H2005.4ZM2011.2 1654.5H2014.7V1727.7H2011.2ZM2020.9 1654.5H2035.0V1727.7H2020.9ZM1990.9 1654.5H1994.1V1798.8H1990.9ZM2030.9 1725.6H2034.0V1798.8H2030.9ZM2059.3 1559.7H2061.8V1656.6H2059.3ZM2079.9 1559.7H2083.0V1656.6H2079.9ZM2098.8 1559.7H2101.9V1656.6H2098.8ZM2111.8 1559.7H2115.2V1656.6H2111.8ZM2116.9 1559.7H2119.8V1656.6H2116.9ZM2030.0 1654.5H2079.0V1727.7H2030.0ZM2079.6 1654.5H2090.2V1727.7H2079.6ZM2091.1 1654.5H2105.7V1727.7H2091.1ZM2106.6 1654.5H2110.9V1727.7H2106.6ZM2112.3 1654.5H2131.2V1727.7H2112.3ZM2135.9 1654.5H2141.9V1727.7H2135.9ZM2155.3 1654.5H2158.7V1727.7H2155.3ZM2174.2 1654.5H2179.4V1727.7H2174.2ZM2030.0 1725.6H2230.0V1727.7H2030.0ZM2030.9 1725.6H2033.8V1798.8H2030.9ZM2043.4 1725.6H2045.8V1798.8H2043.4ZM2079.0 1725.6H2086.8V1798.8H2079.0ZM2095.4 1725.6H2101.9V1798.8H2095.4ZM2103.7 1725.6H2106.1V1798.8H2103.7ZM2116.9 1725.6H2119.2V1798.8H2116.9ZM2123.8 1725.6H2128.1V1798.8H2123.8ZM2131.2 1725.6H2170.8V1798.8H2131.2ZM2173.2 1725.6H2181.1V1798.8H2173.2ZM2188.0 1725.6H2230.0V1798.8H2188.0ZM2131.0 1796.7H2230.0V1798.8H2131.0ZM2148.8 1796.7H2150.8V1893.6H2148.8ZM2184.6 1796.7H2190.9V1893.6H2184.6ZM2194.4 1796.7H2197.0V1893.6H2194.4ZM2197.8 1796.7H2202.1V1893.6H2197.8ZM2221.0 1796.7H2227.1V1893.6H2221.0ZM2225.0 1725.6H2231.0V1798.8H2225.0ZM2232.2 1725.6H2235.7V1798.8H2232.2ZM2236.7 1725.6H2256.0V1798.8H2236.7ZM2257.4 1725.6H2340.0V1798.8H2257.4ZM2342.9 1725.6H2346.9V1798.8H2342.9ZM2349.3 1725.6H2372.7V1798.8H2349.3ZM2376.5 1725.6H2393.7V1798.8H2376.5ZM2400.2 1725.6H2407.0V1798.8H2400.2ZM2225.0 1725.6H2407.0V1727.7H2225.0ZM2225.0 1796.7H2407.0V1798.8H2225.0ZM2260.3 1654.5H2262.9V1727.7H2260.3ZM2289.0 1654.5H2291.8V1727.7H2289.0ZM2321.0 1654.5H2324.0V1727.7H2321.0ZM2336.9 1654.5H2348.6V1727.7H2336.9ZM2354.1 1654.5H2356.7V1727.7H2354.1ZM2364.1 1654.5H2365.8V1727.7H2364.1ZM2367.9 1654.5H2374.7V1727.7H2367.9ZM2377.8 1654.5H2383.3V1727.7H2377.8ZM2384.2 1654.5H2386.8V1727.7H2384.2ZM2389.4 1654.5H2400.6V1727.7H2389.4ZM2404.0 1654.5H2407.0V1727.7H2404.0ZM2394.5 1559.7H2398.0V1656.6H2394.5ZM2225.0 1796.7H2226.7V1893.6H2225.0ZM2239.1 1796.7H2240.8V1893.6H2239.1ZM2250.8 1796.7H2263.7V1893.6H2250.8ZM2295.2 1796.7H2299.0V1893.6H2295.2ZM2302.1 1796.7H2309.0V1893.6H2302.1ZM2362.7 1796.7H2365.8V1893.6H2362.7ZM2379.0 1796.7H2381.3V1893.6H2379.0ZM2401.9 1796.7H2404.9V1893.6H2401.9ZM2257.4 1891.5H2259.8V1964.7H2257.4Z" fill="#1f77b4"/>
<rect x="134.5" y="2070.6" width="351.0" height="162.9" fill="rgba(0,0,255,0.5)" stroke="rgba(0,0,0,0.5)" stroke-width="1.39"/>
<text transform="translate(140.2,2104.4) scale(1.122,1)" x="0" y="0" font-style="italic" font-size="35.3">Min: 43.0 at 64698</text>
<text transform="translate(140.2,2143.5) scale(1.119,1)" x="0" y="0" font-style="italic" font-size="35.3">Max: 45.3 at 22298</text>
<text transform="translate(140.2,2182.6) scale(1.103,1)" x="0" y="0" font-style="italic" font-size="35.3">Mean: 44.34</text>
<text transform="translate(140.2,2221.7) scale(1.106,1)" x="0" y="0" font-style="italic" font-size="35.3">Std Dev: 0.34</text>
<rect x="82.5" y="1253.5" width="2325.0" height="1019.0" fill="none" stroke="#000" stroke-width="1.11"/>
<path d="M82.5 2272.5v5.1M351.5 2272.5v5.1M620.5 2272.5v5.1M889.5 2272.5v5.1M1158.5 2272.5v5.1M1427.5 2272.5v5.1M1696.5 2272.5v5.1M1965.5 2272.5v5.1M2234.5 2272.5v5.1M82.5 2272.5h-5.1M82.5 2153.5h-5.1M82.5 2035.5h-5.1M82.5 1916.5h-5.1M82.5 1798.5h-5.1M82.5 1679.5h-5.1M82.5 1561.5h-5.1M82.5 1442.5h-5.1M82.5 1324.5h-5.1" stroke="#000" stroke-width="1.11" fill="none"/>
<text x="82.4" y="2293.0" font-size="14.1" text-anchor="middle" textLength="7.3" lengthAdjust="spacingAndGlyphs">0</text>
<text x="351.4" y="2293.0" font-size="14.1" text-anchor="middle" textLength="42.7" lengthAdjust="spacingAndGlyphs">10000</text>
<text x="620.4" y="2293.0" font-size="14.1" text-anchor="middle" textLength="42.7" lengthAdjust="spacingAndGlyphs">20000</text>
<text x="889.4" y="2293.0" font-size="14.1" text-anchor="middle" textLength="42.7" lengthAdjust="spacingAndGlyphs">30000</text>
<text x="1158.4" y="2293.0" font-size="14.1" text-anchor="middle" textLength="42.7" lengthAdjust="spacingAndGlyphs">40000</text>
<text x="1427.4" y="2293.0" font-size="14.1" text-anchor="middle" textLength="42.7" lengthAdjust="spacingAndGlyphs">50000</text>
<text x="1696.5" y="2293.0" font-size="14.1" text-anchor="middle" textLength="42.7" lengthAdjust="spacingAndGlyphs">60000</text>
<text x="1965.5" y="2293.0" font-size="14.1" text-anchor="middle" textLength="42.7" lengthAdjust="spacingAndGlyphs">70000</text>
<text x="2234.5" y="2293.0" font-size="14.1" text-anchor="middle" textLength="42.7" lengthAdjust="spacingAndGlyphs">80000</text>
<text x="71.7" y="2278.3" font-size="14.1" text-anchor="end" textLength="29.4" lengthAdjust="spacingAndGlyphs">42.0</text>
<text x="71.7" y="2159.3" font-size="14.1" text-anchor="end" textLength="29.4" lengthAdjust="spacingAndGlyphs">42.5</text>
<text x="71.7" y="2041.3" font-size="14.1" text-anchor="end" textLength="29.4" lengthAdjust="spacingAndGlyphs">43.0</text>
<text x="71.7" y="1922.3" font-size="14.1" text-anchor="end" textLength="29.4" lengthAdjust="spacingAndGlyphs">43.5</text>
<text x="71.7" y="1804.3" font-size="14.1" text-anchor="end" textLength="29.4" lengthAdjust="spacingAndGlyphs">44.0</text>
<text x="71.7" y="1685.3" font-size="14.1" text-anchor="end" textLength="29.4" lengthAdjust="spacingAndGlyphs">44.5</text>
<text x="71.7" y="1567.3" font-size="14.1" text-anchor="end" textLength="29.4" lengthAdjust="spacingAndGlyphs">45.0</text>
<text x="71.7" y="1448.3" font-size="14.1" text-anchor="end" textLength="29.4" lengthAdjust="spacingAndGlyphs">45.5</text>
<text x="71.7" y="1330.3" font-size="14.1" text-anchor="end" textLength="29.4" lengthAdjust="spacingAndGlyphs">46.0</text>
<text x="1244" y="2313.2" font-size="14.1" text-anchor="middle" textLength="107" lengthAdjust="spacingAndGlyphs">Time of Day (s)</text>
<text transform="translate(31.3,1764.0) rotate(-90)" x="0" y="0" font-size="14.1" text-anchor="middle" textLength="88" lengthAdjust="spacingAndGlyphs">C/No (dB-Hz)</text>
<text x="1244.1" y="1245.1" font-size="17" text-anchor="middle" textLength="427" lengthAdjust="spacingAndGlyphs">Juneau - Week 2068 Day 2 - PRN 138 C/No vs Time</text>
<path d="M82.5 2476.5V3495.5M351.5 2476.5V3495.5M620.5 2476.5V3495.5M889.5 2476.5V3495.5M1158.5 2476.5V3495.5M1427.5 2476.5V3495.5M1696.5 2476.5V3495.5M1965.5 2476.5V3495.5M2234.5 2476.5V3495.5M82.39 3495.5H2407.4M82.39 3368.5H2407.4M82.39 3240.5H2407.4M82.39 3113.5H2407.4M82.39 2985.5H2407.4M82.39 2858.5H2407.4M82.39 2730.5H2407.4M82.39 2603.5H2407.4M82.39 2476.5H2407.4" stroke="#b0b0b0" stroke-width="1.11" fill="none"/>
<rect x="135.0" y="2834.6" width="311.1" height="163.8" fill="rgba(0,0,255,0.5)" stroke="rgba(0,0,0,0.5)" stroke-width="1.39"/>
<text transform="translate(140.2,2868.4) scale(1.096,1)" x="0" y="0" font-style="italic" font-size="35.3">Min: No Data</text>
<text transform="translate(140.2,2907.5) scale(1.094,1)" x="0" y="0" font-style="italic" font-size="35.3">Max: No Data</text>
<text transform="translate(140.2,2946.6) scale(1.089,1)" x="0" y="0" font-style="italic" font-size="35.3">Mean: No Data</text>
<text transform="translate(140.2,2985.7) scale(1.103,1)" x="0" y="0" font-style="italic" font-size="35.3">Std Dev: No Data</text>
<rect x="82.5" y="2476.5" width="2325.0" height="1019.0" fill="none" stroke="#000" stroke-width="1.11"/>
<path d="M82.5 3495.5v5.1M351.5 3495.5v5.1M620.5 3495.5v5.1M889.5 3495.5v5.1M1158.5 3495.5v5.1M1427.5 3495.5v5.1M1696.5 3495.5v5.1M1965.5 3495.5v5.1M2234.5 3495.5v5.1M82.5 3495.5h-5.1M82.5 3368.5h-5.1M82.5 3240.5h-5.1M82.5 3113.5h-5.1M82.5 2985.5h-5.1M82.5 2858.5h-5.1M82.5 2730.5h-5.1M82.5 2603.5h-5.1M82.5 2476.5h-5.1" stroke="#000" stroke-width="1.11" fill="none"/>
<text x="82.4" y="3516.0" font-size="14.1" text-anchor="middle" textLength="7.3" lengthAdjust="spacingAndGlyphs">0</text>
<text x="351.4" y="3516.0" font-size="14.1" text-anchor="middle" textLength="42.7" lengthAdjust="spacingAndGlyphs">10000</text>
<text x="620.4" y="3516.0" font-size="14.1" text-anchor="middle" textLength="42.7" lengthAdjust="spacingAndGlyphs">20000</text>
<text x="889.4" y="3516.0" font-size="14.1" text-anchor="middle" textLength="42.7" lengthAdjust="spacingAndGlyphs">30000</text>
<text x="1158.4" y="3516.0" font-size="14.1" text-anchor="middle" textLength="42.7" lengthAdjust="spacingAndGlyphs">40000</text>
<text x="1427.4" y="3516.0" font-size="14.1" text-anchor="middle" textLength="42.7" lengthAdjust="spacingAndGlyphs">50000</text>
<text x="1696.5" y="3516.0" font-size="14.1" text-anchor="middle" textLength="42.7" lengthAdjust="spacingAndGlyphs">60000</text>
<text x="1965.5" y="3516.0" font-size="14.1" text-anchor="middle" textLength="42.7" lengthAdjust="spacingAndGlyphs">70000</text>
<text x="2234.5" y="3516.0" font-size="14.1" text-anchor="middle" textLength="42.7" lengthAdjust="spacingAndGlyphs">80000</text>
<text x="71.7" y="3501.3" font-size="14.1" text-anchor="end" textLength="41.1" lengthAdjust="spacingAndGlyphs">−1.00</text>
<text x="71.7" y="3374.3" font-size="14.1" text-anchor="end" textLength="41.1" lengthAdjust="spacingAndGlyphs">−0.75</text>
<text x="71.7" y="3246.3" font-size="14.1" text-anchor="end" textLength="41.1" lengthAdjust="spacingAndGlyphs">−0.50</text>
<text x="71.7" y="3119.3" font-size="14.1" text-anchor="end" textLength="41.1" lengthAdjust="spacingAndGlyphs">−0.25</text>
<text x="71.7" y="2991.3" font-size="14.1" text-anchor="end" textLength="29.4" lengthAdjust="spacingAndGlyphs">0.00</text>
<text x="71.7" y="2864.3" font-size="14.1" text-anchor="end" textLength="29.4" lengthAdjust="spacingAndGlyphs">0.25</text>
<text x="71.7" y="2737.3" font-size="14.1" text-anchor="end" textLength="29.4" lengthAdjust="spacingAndGlyphs">0.50</text>
<text x="71.7" y="2609.3" font-size="14.1" text-anchor="end" textLength="29.4" lengthAdjust="spacingAndGlyphs">0.75</text>
<text x="71.7" y="2482.3" font-size="14.1" text-anchor="end" textLength="29.4" lengthAdjust="spacingAndGlyphs">1.00</text>
<text x="1244" y="3536.2" font-size="14.1" text-anchor="middle" textLength="107" lengthAdjust="spacingAndGlyphs">Time of Day (s)</text>
<text transform="translate(19.3,2987.0) rotate(-90)" x="0" y="0" font-size="14.1" text-anchor="middle" textLength="88" lengthAdjust="spacingAndGlyphs">C/No (dB-Hz)</text>
<text x="1244.1" y="2468.1" font-size="17" text-anchor="middle" textLength="428" lengthAdjust="spacingAndGlyphs">Boston - Week 2068 Day 2 - PRN 138 C/No vs Time</text>
</svg></body></html>
